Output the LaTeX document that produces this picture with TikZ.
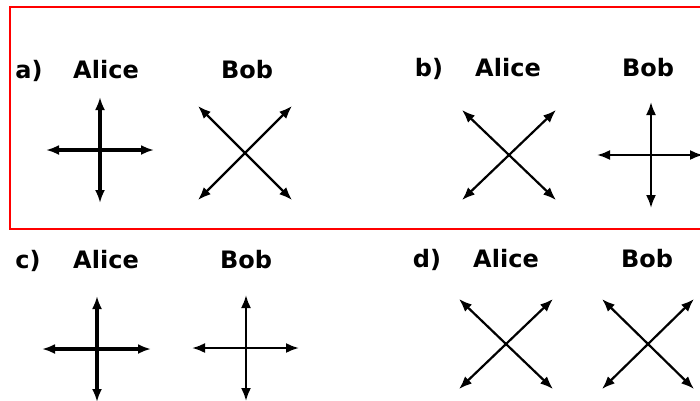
\documentclass[tikz,border=0pt]{standalone}
\usepackage{fontspec}
\setmainfont{DejaVu Sans}
\usepackage{tikz}
\usetikzlibrary{arrows.meta, positioning}

\begin{document}
\begin{tikzpicture}[
  x=1pt, y=-1pt,
  lbl/.style={anchor=base, inner sep=0pt, font=\fontsize{24}{28}\selectfont\bfseries},
  axis/.style={{Latex[length=13pt,width=10pt]}-{Latex[length=13pt,width=10pt]}, line width=2.2pt},
  heavy/.style={axis, line width=3.2pt},
  frame/.style={draw=red, line width=2.8pt}
]
\clip (0,0) rectangle (700,400);
\useasboundingbox (0,0) rectangle (700,400);

%% --- highlighted frame round a) and b) ---
\draw[frame] (10,7) rectangle (706,229);

%% --- labels ---
\node[lbl] (la) at (29,78) {a)};
\node[lbl] (aAlice) at (106,78) {Alice};
\node[lbl] (aBob) at (247,78) {Bob};
\node[lbl] (lb) at (429,76) {b)};
\node[lbl] (bAlice) at (508,76) {Alice};
\node[lbl] (bBob) at (648,76) {Bob};
\node[lbl] (lc) at (28,268) {c)};
\node[lbl] (cAlice) at (106,268) {Alice};
\node[lbl] (cBob) at (246,268) {Bob};
\node[lbl] (ld) at (427,267) {d)};
\node[lbl] (dAlice) at (506,267) {Alice};
\node[lbl] (dBob) at (647,267) {Bob};

%% --- centres of the crosses ---
\coordinate (a1) at (100,150);
\coordinate (a2) at (245,153);
\coordinate (b1) at (509,155);
\coordinate (b2) at (651,155);
\coordinate (c1) at (97,349);
\coordinate (c2) at (246,348);
\coordinate (d1) at (506,344);
\coordinate (d2) at (648,344);

%% --- a) ---
\draw[heavy] ([shift={(0,-53)}]a1) -- ([shift={(0,53)}]a1);
\draw[heavy] ([shift={(-54,0)}]a1) -- ([shift={(54,0)}]a1);
\draw[axis] ([shift={(-47,-47)}]a2) -- ([shift={(47,47)}]a2);
\draw[axis] ([shift={(-47,47)}]a2) -- ([shift={(47,-47)}]a2);

%% --- b) ---
\draw[axis] ([shift={(-47,-45)}]b1) -- ([shift={(47,45)}]b1);
\draw[axis] ([shift={(-47,45)}]b1) -- ([shift={(47,-45)}]b1);
\draw[axis] ([shift={(0,-53)}]b2) -- ([shift={(0,53)}]b2);
\draw[axis] ([shift={(-54,0)}]b2) -- ([shift={(52,0)}]b2);

%% --- c) ---
\draw[heavy] ([shift={(0,-53)}]c1) -- ([shift={(0,53)}]c1);
\draw[heavy] ([shift={(-55,0)}]c1) -- ([shift={(54,0)}]c1);
\draw[axis] ([shift={(0,-53)}]c2) -- ([shift={(0,53)}]c2);
\draw[axis] ([shift={(-54,0)}]c2) -- ([shift={(53,0)}]c2);

%% --- d) ---
\draw[axis] ([shift={(-47,-45)}]d1) -- ([shift={(47,45)}]d1);
\draw[axis] ([shift={(-47,45)}]d1) -- ([shift={(47,-45)}]d1);
\draw[axis] ([shift={(-46,-45)}]d2) -- ([shift={(46,45)}]d2);
\draw[axis] ([shift={(-46,45)}]d2) -- ([shift={(46,-45)}]d2);

\end{tikzpicture}
\end{document}
